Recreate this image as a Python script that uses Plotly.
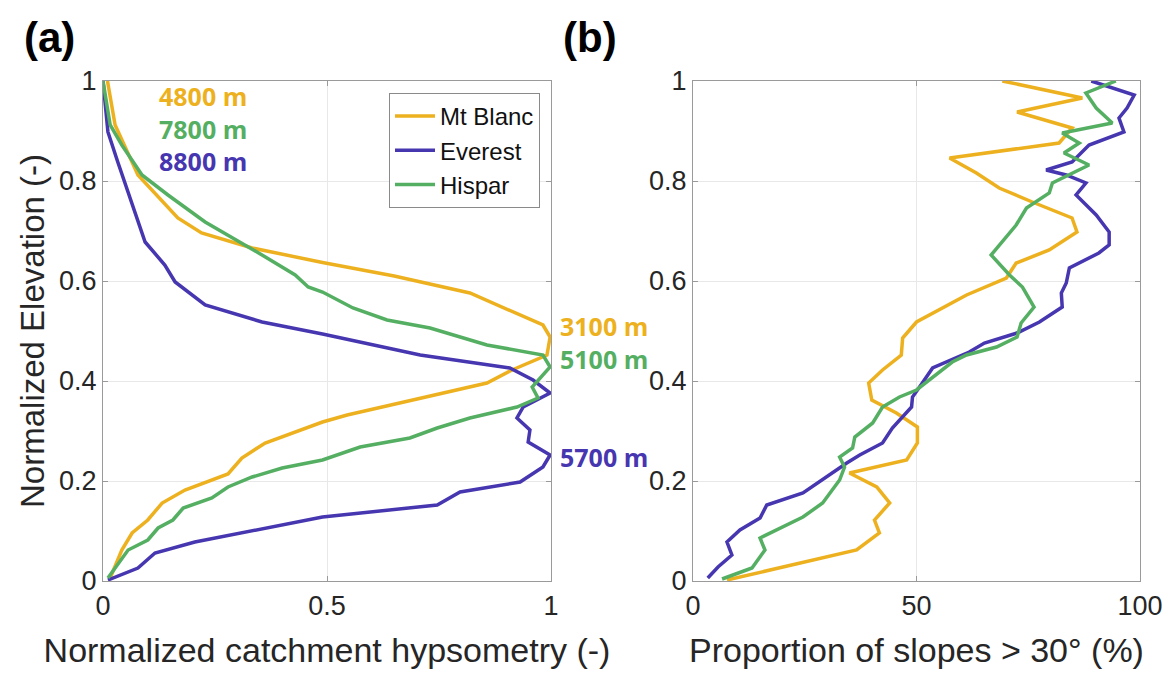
import plotly.graph_objects as go

# ---------------- data ----------------
# Panel (a): normalized catchment hypsometry vs normalized elevation
mtblanc_a_x = [0.01, 0.027, 0.078, 0.167, 0.22, 0.333, 0.49, 0.65, 0.819, 0.96, 0.982, 0.998, 0.991, 0.913, 0.857,
               0.545, 0.49, 0.362, 0.31, 0.279, 0.183, 0.132, 0.1, 0.065, 0.042, 0.016]
mtblanc_a_y = [1.0, 0.912, 0.812, 0.726, 0.696, 0.666, 0.637, 0.61, 0.576, 0.522, 0.512, 0.488, 0.452, 0.422, 0.396,
               0.332, 0.318, 0.276, 0.246, 0.214, 0.182, 0.156, 0.122, 0.096, 0.062, 0.006]

everest_a_x = [0.0, 0.005, 0.011, 0.033, 0.056, 0.094, 0.138, 0.161, 0.228, 0.355, 0.49, 0.708, 0.908, 0.96, 0.998,
               0.938, 0.924, 0.953, 0.949, 0.998, 0.982, 0.931, 0.797, 0.746, 0.49, 0.301, 0.205, 0.116, 0.078, 0.011]
everest_a_y = [1.0, 0.95, 0.898, 0.838, 0.778, 0.678, 0.632, 0.598, 0.552, 0.518, 0.494, 0.452, 0.426, 0.402, 0.376,
               0.348, 0.326, 0.302, 0.278, 0.252, 0.228, 0.198, 0.178, 0.152, 0.128, 0.096, 0.078, 0.056, 0.026, 0.002]

hispar_a_x = [0.0, 0.016, 0.042, 0.087, 0.145, 0.228, 0.355, 0.429, 0.458, 0.49, 0.558, 0.634, 0.73, 0.857, 0.982,
              0.998, 0.958, 0.971, 0.924, 0.819, 0.746, 0.685, 0.574, 0.513, 0.49, 0.4, 0.333, 0.279, 0.243, 0.179,
              0.156, 0.123, 0.1, 0.056, 0.011]
hispar_a_y = [1.0, 0.912, 0.872, 0.812, 0.772, 0.718, 0.652, 0.612, 0.588, 0.578, 0.546, 0.522, 0.506, 0.472, 0.452,
              0.428, 0.388, 0.366, 0.348, 0.326, 0.306, 0.286, 0.268, 0.248, 0.242, 0.226, 0.208, 0.188, 0.166, 0.146,
              0.122, 0.106, 0.082, 0.062, 0.006]

# Panel (b): proportion of slopes > 30 deg (%) vs normalized elevation
mtblanc_b_x = [69.2, 87.1, 72.5, 84.8, 81.9, 57.4, 63.4, 68.5, 75.9, 84.8, 85.9, 79.7, 72.3, 70.1, 61.2, 50.0, 46.9,
               46.6, 42.4, 39.3, 40.0, 45.5, 50.2, 50.2, 47.8, 35.0, 41.1, 44.0, 40.6, 41.7, 36.6, 7.6]
mtblanc_b_y = [1.0, 0.966, 0.938, 0.906, 0.876, 0.846, 0.816, 0.786, 0.758, 0.726, 0.698, 0.662, 0.636, 0.606, 0.572,
               0.518, 0.486, 0.452, 0.422, 0.396, 0.362, 0.336, 0.308, 0.276, 0.242, 0.216, 0.188, 0.156, 0.122, 0.096,
               0.062, 0.002]

everest_b_x = [89.1, 98.7, 97.1, 95.3, 96.4, 88.6, 84.8, 79.0, 83.5, 87.9, 85.7, 90.2, 93.1, 93.1, 90.8, 84.2, 83.5,
               82.4, 82.6, 77.5, 72.5, 65.2, 61.8, 53.6, 51.3, 49.1, 48.9, 44.6, 42.4, 37.3, 34.4, 29.0, 24.6, 16.5,
               15.0, 10.5, 7.6, 8.7, 5.6, 3.3]
everest_b_y = [1.0, 0.972, 0.946, 0.926, 0.898, 0.872, 0.838, 0.822, 0.812, 0.796, 0.772, 0.732, 0.698, 0.672, 0.656,
               0.626, 0.596, 0.576, 0.548, 0.518, 0.496, 0.476, 0.458, 0.426, 0.396, 0.368, 0.348, 0.306, 0.276, 0.252,
               0.236, 0.202, 0.176, 0.152, 0.126, 0.102, 0.078, 0.052, 0.028, 0.006]

hispar_b_x = [94.6, 87.9, 90.2, 93.8, 82.6, 86.4, 83.0, 88.6, 80.4, 79.7, 74.6, 72.3, 66.7, 70.8, 73.7, 76.3, 73.4,
              72.5, 67.9, 61.2, 58.0, 53.6, 50.0, 46.2, 42.4, 40.2, 36.2, 35.7, 32.8, 33.9, 32.8, 29.0, 24.6, 15.0,
              16.1, 13.2, 6.5]
hispar_b_y = [1.0, 0.976, 0.946, 0.916, 0.896, 0.876, 0.856, 0.832, 0.796, 0.776, 0.746, 0.712, 0.652, 0.612, 0.588,
              0.548, 0.516, 0.488, 0.468, 0.452, 0.438, 0.408, 0.382, 0.368, 0.348, 0.316, 0.288, 0.266, 0.248, 0.228,
              0.202, 0.156, 0.128, 0.086, 0.062, 0.026, 0.004]

series_names = ["Mt Blanc", "Everest", "Hispar"]
y_ticks = [0, 0.2, 0.4, 0.6, 0.8, 1]
y_ticktext = ["0", "0.2", "0.4", "0.6", "0.8", "1"]
xa_ticks = [0, 0.5, 1]
xa_ticktext = ["0", "0.5", "1"]
xb_ticks = [0, 50, 100]
xb_ticktext = ["0", "50", "100"]

# ---------------- style ----------------
ORANGE = "#EDB120"
BLUE = "#4636B0"
GREEN = "#55AF62"
colors = [ORANGE, BLUE, GREEN]
LW = 3.5
FONT = "Liberation Sans, Arial, sans-serif"
AXC = "#262626"

W, H = 1176, 675
OFF = 8  # the page body margin shifts the figure by 8 px


def px(xp):
    return (xp - OFF) / W


def py(yp):
    return (H - (yp - OFF)) / H


fig = go.Figure()

panel_a = [(mtblanc_a_x, mtblanc_a_y), (everest_a_x, everest_a_y), (hispar_a_x, hispar_a_y)]
panel_b = [(mtblanc_b_x, mtblanc_b_y), (everest_b_x, everest_b_y), (hispar_b_x, hispar_b_y)]

for (xs, ys), name, c in zip(panel_a, series_names, colors):
    fig.add_trace(go.Scatter(x=xs, y=ys, mode="lines", name=name, line=dict(color=c, width=LW),
                             xaxis="x", yaxis="y", showlegend=True))
for (xs, ys), name, c in zip(panel_b, series_names, colors):
    fig.add_trace(go.Scatter(x=xs, y=ys, mode="lines", name=name, line=dict(color=c, width=LW),
                             xaxis="x2", yaxis="y2", showlegend=False))

common_axis = dict(
    showline=True, mirror="ticks", linecolor="#9a9a9a", linewidth=1.2,
    ticks="inside", ticklen=5, tickcolor="#9a9a9a",
    showgrid=True, gridcolor="#e8e8e8", gridwidth=1,
    zeroline=False, tickfont=dict(family=FONT, size=27, color=AXC),
    automargin=False,
)

ydom = [py(581), py(81)]

fig.update_layout(
    width=W, height=H,
    margin=dict(l=0, r=0, t=0, b=0, autoexpand=False),
    paper_bgcolor="white", plot_bgcolor="white",
    xaxis=dict(domain=[px(103), px(551)], range=[0, 1], tickvals=xa_ticks, ticktext=xa_ticktext,
               anchor="y", title=dict(text="Normalized catchment hypsometry (-)",
                                      font=dict(family=FONT, size=34, color=AXC), standoff=18),
               **common_axis),
    yaxis=dict(domain=ydom, range=[0, 1], tickvals=y_ticks, ticktext=y_ticktext,
               anchor="x", title=dict(text="Normalized Elevation (-)",
                                      font=dict(family=FONT, size=33, color=AXC), standoff=4),
               **common_axis),
    xaxis2=dict(domain=[px(693), px(1140)], range=[0, 100], tickvals=xb_ticks, ticktext=xb_ticktext,
                anchor="y2", title=dict(text="Proportion of slopes > 30° (%)",
                                        font=dict(family=FONT, size=34, color=AXC), standoff=18),
                **common_axis),
    yaxis2=dict(domain=ydom, range=[0, 1], tickvals=y_ticks, ticktext=y_ticktext,
                anchor="x2", **common_axis),
    legend=dict(x=px(540), y=py(93), xanchor="right", yanchor="top",
                bgcolor="white", bordercolor="#8a8a8a", borderwidth=1,
                font=dict(family=FONT, size=24, color="#111111"),
                tracegroupgap=0, itemwidth=40),
    showlegend=True,
)

ann_font = "Open Sans, Lato, sans-serif"


def colored_lines(items):
    return "<br>".join("<span style='color:%s'><b>%s</b></span>" % (c, t) for t, c in items)


# top-left elevation labels (max elevations)
fig.add_annotation(text=colored_lines([("4800 m", ORANGE), ("7800 m", GREEN), ("8800 m", BLUE)]),
                   xref="paper", yref="paper", x=px(157), y=py(128),
                   xanchor="left", yanchor="middle", align="left", showarrow=False,
                   font=dict(family=ann_font, size=25, color=ORANGE))
# right-side labels (peak hypsometry elevations)
fig.add_annotation(text=colored_lines([("3100 m", ORANGE), ("5100 m", GREEN)]),
                   xref="paper", yref="paper", x=px(558), y=py(342),
                   xanchor="left", yanchor="middle", align="left", showarrow=False,
                   font=dict(family=ann_font, size=25, color=ORANGE))
fig.add_annotation(text="<b>5700 m</b>", xref="paper", yref="paper", x=px(558), y=py(457),
                   xanchor="left", yanchor="middle", showarrow=False,
                   font=dict(family=ann_font, size=25, color=BLUE))

for txt, xc in [("(a)", 49), ("(b)", 590)]:
    fig.add_annotation(text="<b>%s</b>" % txt, xref="paper", yref="paper",
                       x=px(xc), y=py(37), xanchor="center", yanchor="middle",
                       showarrow=False, font=dict(family=FONT, size=42, color="black"))

fig.write_html("out.html")
